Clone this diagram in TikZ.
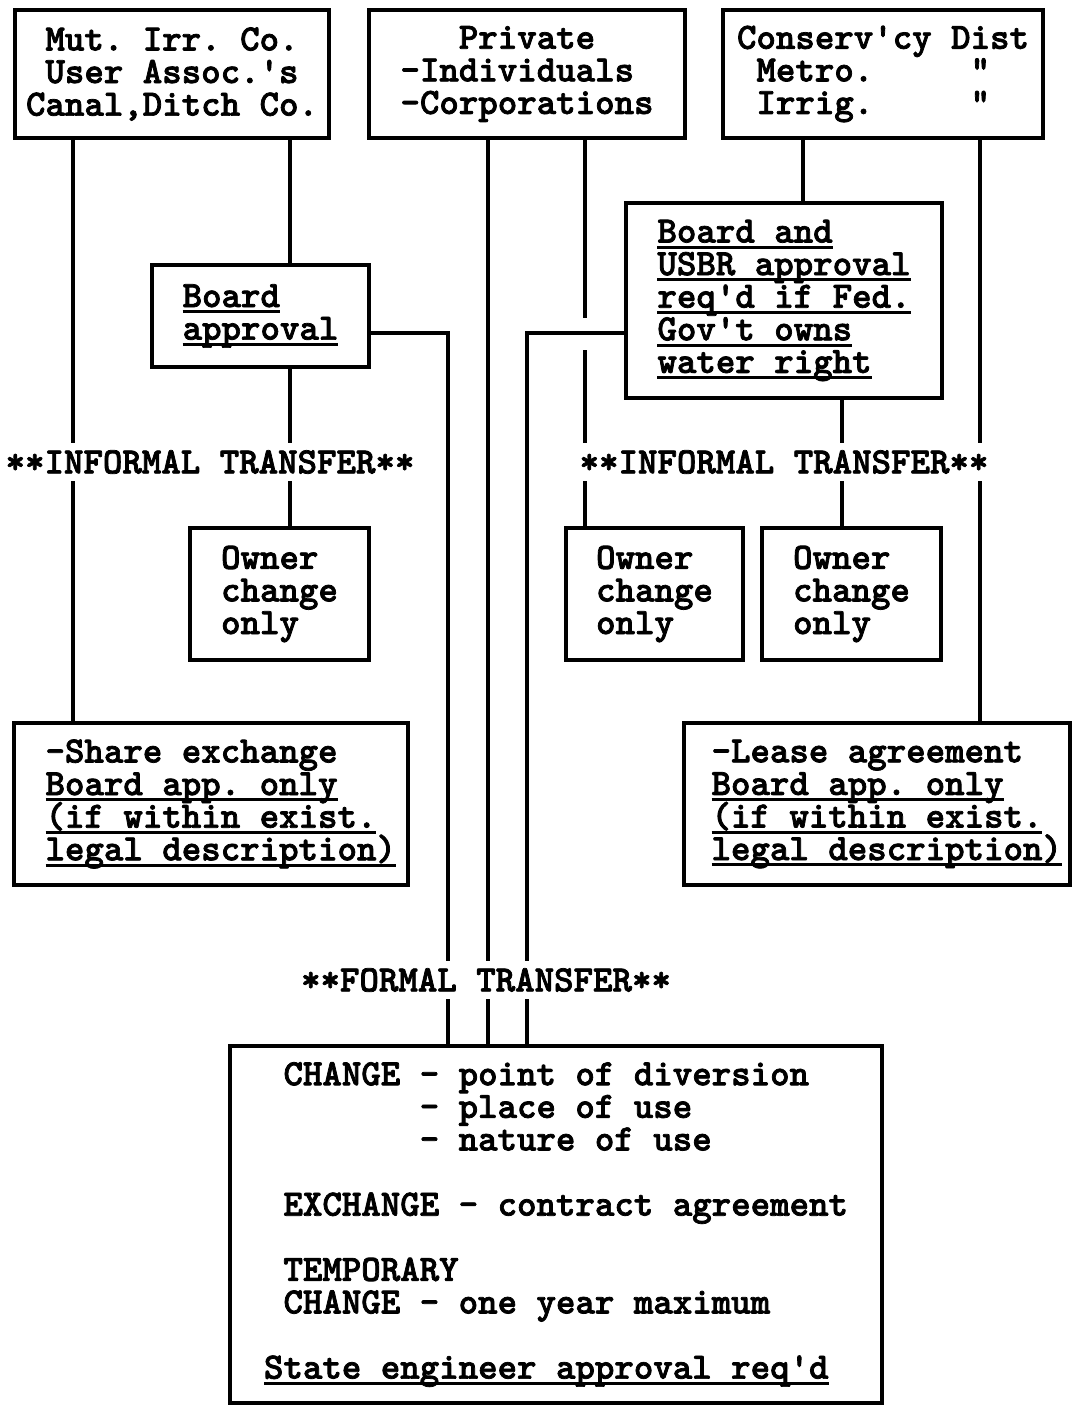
\documentclass[tikz,border=0pt]{standalone}
\usepackage{tikz}
\usetikzlibrary{positioning,calc}
\font\typefont="[lmmonolt10-bold.otf]:embolden=2" at 21.1pt
\newsavebox\ulbox
\newcommand{\typew}{\typefont\baselineskip=18.55pt\frenchspacing\lineskiplimit=-\maxdimen}
\newcommand{\tul}[1]{\sbox\ulbox{#1}\rlap{\rule[-0.17em]{\wd\ulbox}{0.08em}}\usebox\ulbox}
\newcommand{\ind}{\phantom{x}}
\newcommand{\ap}{\textquotesingle}

\begin{document}
\begin{tikzpicture}[
  box/.style={draw, line width=1.8pt, inner sep=0pt, align=left, font=\typew},
  lnk/.style={line width=1.8pt},
  lbl/.style={fill=white, inner xsep=2pt, inner ysep=4pt, font=\typew},
]
\useasboundingbox (0,0) rectangle (21.44,-28.12);
% Owners
\node[box, align=center, minimum width=6.28cm, minimum height=2.56cm] (mic) at (3.44,-1.48) {Mut. Irr. Co.\\User Assoc.\ap s\\Canal,Ditch Co.};
\node[box, minimum width=6.32cm, minimum height=2.56cm] (priv) at (10.54,-1.48) {\phantom{xxx}Private\\-Individuals\\-Corporations};
\node[box, minimum width=6.40cm, minimum height=2.56cm] (cons) at (17.66,-1.48) {Conserv\ap cy Dist\\\ind Metro.\phantom{xxxxx}"\\\ind Irrig.\phantom{xxxxx}"};
% Approvals
\node[box, minimum width=4.34cm, minimum height=2.04cm] (bapp) at (5.21,-6.32) {\tul{Board}\\\tul{approval}};
\node[box, minimum width=6.32cm, minimum height=3.90cm] (usbr) at (15.68,-6.01) {\tul{Board and}\\\tul{USBR approval}\\\tul{req\ap d if Fed.}\\\tul{Gov\ap t owns}\\\tul{water right}};
% Informal results
\foreach \n/\x/\w in {ownL/5.59/3.58, ownM/13.09/3.54, ownR/17.03/3.58} {
  \node[box, minimum width=\w cm, minimum height=2.64cm] (\n) at (\x,-11.88) {Owner\\change\\only};
}
\node[box, minimum width=7.88cm, minimum height=3.24cm] (share) at (4.22,-16.08) {\ind-Share exchange\\\ind\tul{Board app. only}\\\ind\tul{(if within exist.}\\\ind\tul{legal description)}};
\node[box, minimum width=7.72cm, minimum height=3.24cm] (lease) at (17.54,-16.08) {\ind-Lease agreement\\\ind\tul{Board app. only}\\\ind\tul{(if within exist.}\\\ind\tul{legal description)}};
% Formal result
\node[box, minimum width=13.04cm, minimum height=7.14cm] (chg) at (11.12,-24.49) {\ind CHANGE - point of diversion\\\ind\phantom{CHANGE }- place of use\\\ind\phantom{CHANGE }- nature of use\\[18.55pt]\ind EXCHANGE - contract agreement\\[18.55pt]\ind TEMPORARY\\\ind CHANGE - one year maximum\\[18.55pt]\tul{State engineer approval req\ap d}};
% line columns
\coordinate (colA) at (1.46,0);
\coordinate (colB) at (5.80,0);
\coordinate (colF1) at (8.96,0);
\coordinate (colF2) at (9.76,0);
\coordinate (colF3) at (10.54,0);
\coordinate (colP) at (11.70,0);
\coordinate (colC) at (16.06,0);
\coordinate (colU) at (16.84,0);
\coordinate (colL) at (19.60,0);
\coordinate (hy) at (0,-6.66);
\coordinate (gapT) at (0,-6.36);
\coordinate (gapB) at (0,-7.00);
% Connectors
\draw[lnk] (mic.south -| colA) -- (share.north -| colA);
\draw[lnk] (mic.south -| colB) -- (bapp.north -| colB);
\draw[lnk] (bapp.south -| colB) -- (ownL.north -| colB);
\draw[lnk] (bapp.east |- hy) -| (chg.north -| colF1);
\draw[lnk] (priv.south -| colF2) -- (chg.north -| colF2);
\draw[lnk] (usbr.west |- hy) -| (chg.north -| colF3);
\draw[lnk] (priv.south -| colP) -- (gapT -| colP);
\draw[lnk] (gapB -| colP) -- (ownM.north -| colP);
\draw[lnk] (cons.south -| colC) -- (usbr.north -| colC);
\draw[lnk] (usbr.south -| colU) -- (ownR.north -| colU);
\draw[lnk] (cons.south -| colL) -- (lease.north -| colL);
% Labels
\node[lbl] (infL) at (4.20,-9.24) {**INFORMAL TRANSFER**};
\node[lbl] (infR) at (15.68,-9.24) {**INFORMAL TRANSFER**};
\node[lbl] (frm) at (9.72,-19.60) {**FORMAL TRANSFER**};
\end{tikzpicture}
\end{document}
